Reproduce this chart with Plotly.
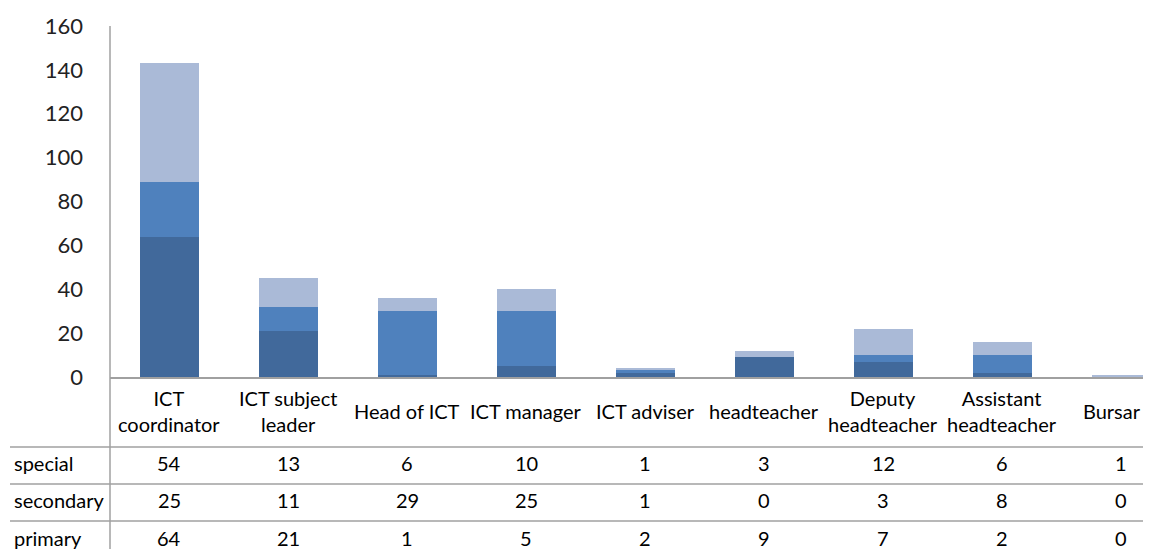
import plotly.graph_objects as go

categories = ["ICT<br>coordinator", "ICT subject<br>leader", "Head of ICT", "ICT manager",
              "ICT adviser", "headteacher", "Deputy<br>headteacher", "Assistant<br>headteacher", "Bursar"]
series_names = ["special", "secondary", "primary"]
special = [54, 13, 6, 10, 1, 3, 12, 6, 1]
secondary = [25, 11, 29, 25, 1, 0, 3, 8, 0]
primary = [64, 21, 1, 5, 2, 9, 7, 2, 0]
y_ticks = [0, 20, 40, 60, 80, 100, 120, 140, 160]

colors = {"primary": "#41699B", "secondary": "#4F81BD", "special": "#AABAD7"}
values = {"special": special, "secondary": secondary, "primary": primary}

FONT = "Lato"
OFF = 8  # page body margin
W, H = 1151 - OFF, 549 - OFF
# page-pixel positions
L_P, T_P, B_P = 110, 26, 377
L, T, B = L_P - OFF, T_P - OFF, B_P - OFF

def py(p):
    return (B_P - p) / (B_P - T_P)

def px(p):
    return (p - L_P) / (W - L)

xs = list(range(len(categories)))
fig = go.Figure()
for name in ["primary", "secondary", "special"]:
    fig.add_trace(go.Bar(x=xs, y=values[name], name=name,
                         marker=dict(color=colors[name], line=dict(width=0)),
                         width=0.5))

annotations = []
for i, c in enumerate(categories):
    last = i == len(categories) - 1
    annotations.append(dict(x=i, xref="x", y=py(411), yref="paper", text=c, showarrow=False,
                            xanchor="center", yanchor="middle", xshift=-9 if last else 0,
                            font=dict(family=FONT, size=20, color="#000000")))
row_y = {"special": 463, "secondary": 500, "primary": 538}
for name in series_names:
    annotations.append(dict(x=px(12), xref="paper", y=py(row_y[name]), yref="paper", text=name,
                            showarrow=False, xanchor="left", yanchor="middle",
                            font=dict(family=FONT, size=20, color="#000000")))
    for i, v in enumerate(values[name]):
        annotations.append(dict(x=i, xref="x", y=py(row_y[name]), yref="paper", text=str(v),
                                showarrow=False, xanchor="center", yanchor="middle",
                                font=dict(family=FONT, size=20, color="#000000")))

shapes = []
for ly in [447, 484, 521]:
    shapes.append(dict(type="line", xref="paper", yref="paper", x0=px(10), x1=1.0,
                       y0=py(ly), y1=py(ly), line=dict(color="#A0A0A0", width=1.5)))
shapes.append(dict(type="line", xref="paper", yref="paper", x0=0, x1=0,
                   y0=py(560), y1=1.0, line=dict(color="#A0A0A0", width=1.5)))

fig.update_layout(
    width=W, height=H,
    margin=dict(l=L, r=0, t=T, b=H - B),
    paper_bgcolor="white", plot_bgcolor="white",
    barmode="stack", showlegend=False,
    xaxis=dict(range=[-0.5, 8.25], showticklabels=False, showgrid=False, zeroline=False,
               showline=True, linecolor="#A0A0A0", linewidth=2, ticks=""),
    yaxis=dict(range=[0, 160], tickvals=y_ticks, showgrid=False, zeroline=False,
               showline=False, ticks="", ticklabelstandoff=26,
               tickfont=dict(family=FONT, size=22, color="#222222")),
    annotations=annotations, shapes=shapes,
)
fig.write_html("out.html")
